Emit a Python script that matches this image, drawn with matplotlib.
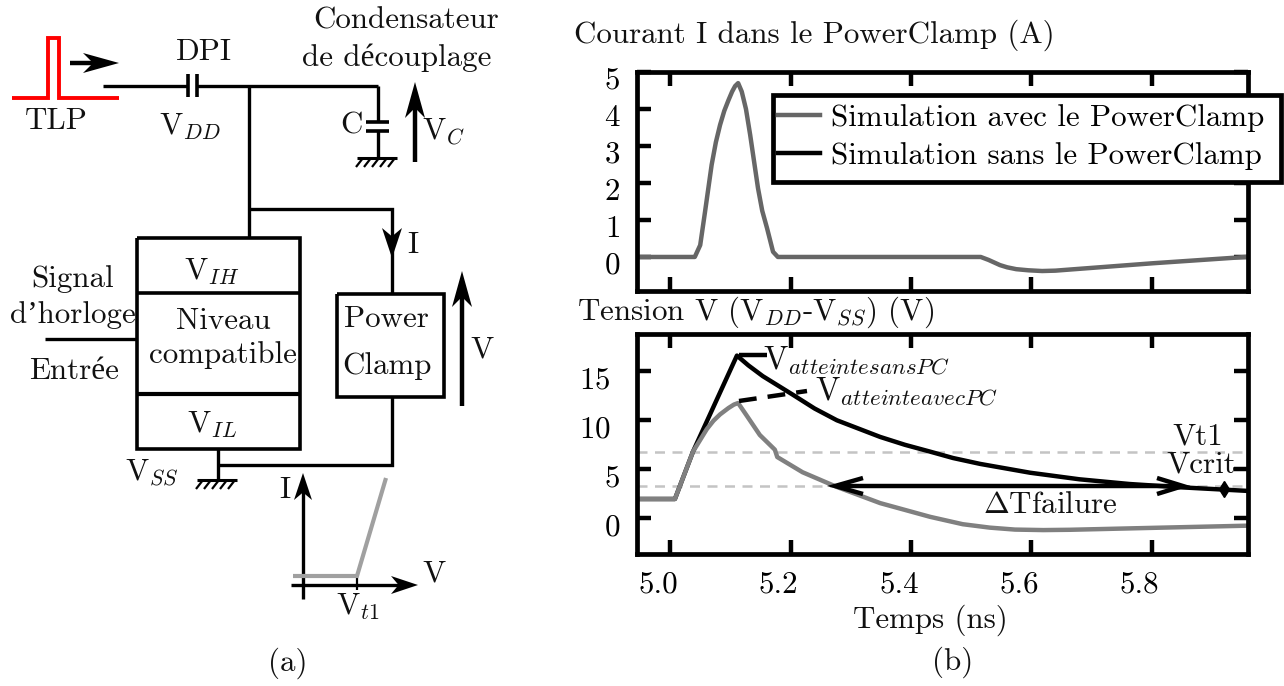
import matplotlib
matplotlib.use("Agg")
import matplotlib.pyplot as plt
from matplotlib.lines import Line2D
from matplotlib.patches import Polygon, Rectangle
from matplotlib.transforms import ScaledTranslation

plt.rcParams['font.family'] = ['cmr10', 'Liberation Serif']
plt.rcParams['mathtext.fontset'] = 'cm'
plt.rcParams['axes.unicode_minus'] = False
plt.rcParams['axes.formatter.use_mathtext'] = True

W, H = 1284, 686
FS = 22.3

# current through the clamp (A)
t_current = [4.948, 5.041, 5.05, 5.058, 5.069, 5.076, 5.083, 5.09, 5.097, 5.103, 5.108, 5.113, 5.119, 5.126,
             5.133, 5.146, 5.153, 5.161, 5.171, 5.179, 5.31, 5.516, 5.529, 5.548, 5.56, 5.575, 5.595, 5.618,
             5.64, 5.664, 5.802, 5.956]
i_clamp = [0, 0, 0.32, 1.22, 2.49, 3.1, 3.57, 3.95, 4.24, 4.47, 4.62, 4.7, 4.47, 4.0,
           3.3, 1.86, 1.25, 0.78, 0.14, 0, 0, 0, -0.08, -0.22, -0.28, -0.33, -0.36, -0.38,
           -0.37, -0.34, -0.17, 0]

# voltage without the clamp (V)
t_sans = [4.948, 5.008, 5.038, 5.111, 5.13, 5.154, 5.204, 5.24, 5.277, 5.349, 5.39, 5.432, 5.47, 5.515,
          5.598, 5.68, 5.763, 5.846, 5.958]
v_sans = [1.97, 1.97, 6.8, 16.6, 15.6, 14.5, 12.6, 11.2, 10.0, 8.3, 7.5, 6.8, 6.15, 5.55,
          4.65, 3.98, 3.5, 3.17, 2.8]

# voltage with the clamp (V)
t_avec = [4.948, 5.008, 5.038, 5.05, 5.061, 5.072, 5.083, 5.097, 5.106, 5.113, 5.127, 5.149, 5.174, 5.178,
          5.22, 5.277, 5.349, 5.432, 5.486, 5.531, 5.573, 5.62, 5.664, 5.818, 5.96]
v_avec = [1.97, 1.97, 6.8, 8.0, 9.1, 9.95, 10.6, 11.25, 11.6, 11.76, 10.5, 8.5, 7.0, 6.25,
          4.7, 3.2, 1.55, 0.15, -0.6, -0.95, -1.15, -1.2, -1.17, -0.95, -0.75]

v_t1 = 6.8
v_crit = 3.3
t_ticks = [5.0, 5.2, 5.4, 5.6, 5.8]
i_ticks = [0, 1, 2, 3, 4, 5]
v_ticks = [0, 5, 10, 15]
legend_labels = ["Simulation avec le PowerClamp", "Simulation sans le PowerClamp"]


def axes_px(fig, x0, y0, x1, y1):
    return fig.add_axes([x0 / W, 1 - y1 / H, (x1 - x0) / W, (y1 - y0) / H])


def style_axes(ax, fig, dy):
    for s in ax.spines.values():
        s.set_linewidth(3.4)
    ax.tick_params(direction='in', length=10, width=3.2, top=True, right=True, labelsize=FS, pad=12)
    off = ScaledTranslation(0, -dy / 100, fig.dpi_scale_trans)
    for lab in ax.get_yticklabels():
        lab.set_transform(lab.get_transform() + off)


fig = plt.figure(figsize=(W / 100, H / 100), dpi=100)

ax1 = axes_px(fig, 637, 72, 1248, 291)
ax1.plot(t_current, i_clamp, color='#666666', lw=3.2)
ax1.set_xlim(4.945, 5.96)
ax1.set_ylim(-0.92, 5)
ax1.set_xticks(t_ticks)
ax1.set_yticks(i_ticks)
ax1.set_xticklabels([])
style_axes(ax1, fig, 6)

# the legend box is wider on the right than the legend's own padding, so it is drawn apart
box = Rectangle((773 / W, 1 - 182 / H), 508 / W, 87 / H, transform=fig.transFigure, fc='white', ec='black',
                lw=3.4, clip_on=False, zorder=4.5)
ax1.add_patch(box)
handles = [Line2D([], [], color='#666666', lw=3.2), Line2D([], [], color='black', lw=3.2)]
leg = ax1.legend(handles, legend_labels, loc='upper left', bbox_to_anchor=(771 / W, 1 - 97 / H),
                 bbox_transform=fig.transFigure, fontsize=FS, frameon=False,
                 handlelength=1.35, handletextpad=0.36, labelspacing=0.34,
                 borderpad=0.22, borderaxespad=0)

ax2 = axes_px(fig, 637, 334, 1248, 554)
ax2.axhline(v_t1, color='#c4c4c4', lw=1.8, ls=(0, (4, 3)))
ax2.axhline(v_crit, color='#c4c4c4', lw=1.8, ls=(0, (4, 3)))
ax2.plot(t_sans, v_sans, color='black', lw=3.2)
ax2.plot(t_avec, v_avec, color='#808080', lw=3.2)
ax2.set_xlim(4.945, 5.96)
ax2.set_ylim(-3.64, 18.8)
ax2.set_xticks(t_ticks)
ax2.set_yticks(v_ticks)
ax2.set_xticklabels([f"{t:.1f}" for t in t_ticks])
style_axes(ax2, fig, 6)
ax2.tick_params(axis='x', pad=12)
off = ScaledTranslation(-12 / 100, 0, fig.dpi_scale_trans)
for lab in ax2.get_xticklabels():
    lab.set_transform(lab.get_transform() + off)
off = ScaledTranslation(-10 / 100, 0, fig.dpi_scale_trans)
for lab in ax2.get_yticklabels()[2:]:
    lab.set_transform(lab.get_transform() + off)

# schematic and annotations are drawn in pixel coordinates
ov = fig.add_axes([0, 0, 1, 1], zorder=5)
ov.set_xlim(0, W)
ov.set_ylim(H, 0)
ov.axis('off')
ov.patch.set_alpha(0)


def wire(xs, ys, lw=2.4, color='black', **kw):
    ov.plot(xs, ys, color=color, lw=lw, solid_capstyle='butt', solid_joinstyle='miter', **kw)


def head(x, y, dx, dy, length=24, half=10):
    # swept arrow head with its tip at x, y, pointing along dx, dy
    px, py = -dy, dx
    pts = [(x, y),
           (x - dx * length + px * half, y - dy * length + py * half),
           (x - dx * length * 0.72, y - dy * length * 0.72),
           (x - dx * length - px * half, y - dy * length - py * half)]
    ov.add_patch(Polygon(pts, closed=True, fc='black', ec='none', zorder=6))


def ground(xc, y):
    wire([xc - 20, xc + 20], [y, y], lw=2.2)
    for x in range(xc - 14, xc + 20, 8):
        wire([x, x - 7], [y, y + 9], lw=1.6)


def label(x, y, s, size=FS, ha='center'):
    ov.text(x, y, s, fontsize=size, ha=ha, va='center', color='#111111')


# TLP pulse
wire([12, 48, 48, 59, 59, 119], [98, 98, 38, 38, 98, 98], lw=2.8, color='#ff0000')
wire([70, 105], [63, 63], lw=3.2)
head(119, 63, 1, 0, length=36, half=10)

# supply rail
wire([103, 188], [86, 86])
wire([197, 378], [86, 86])
wire([188, 188], [74, 97], lw=2.6)
wire([197, 197], [74, 97], lw=2.6)
wire([249, 249], [86, 238])
wire([378, 378], [86, 122])
wire([366, 389], [122, 122], lw=2.6)
wire([366, 389], [131, 131], lw=2.6)
wire([378, 378], [131, 158])
ground(377, 158)
wire([415, 415], [162, 95], lw=3.2)
head(415, 82, 0, -1, length=36, half=10)

# branch to the clamp
wire([249, 392, 392], [209, 209, 293])
head(392, 258, 0, 1, length=30, half=10)
wire([392, 392, 218], [397, 465, 465])

# level-shifter box
wire([137, 300, 300, 137, 137], [238, 238, 449, 449, 238], lw=2.6)
wire([137, 300], [293, 293], lw=2.6)
wire([137, 300], [394, 394], lw=3)
wire([45, 137], [339, 339])
wire([218, 218], [449, 480])
ground(217, 480)

# clamp box
wire([337, 444, 444, 337, 337], [294, 294, 397, 397, 294], lw=2.6)
wire([462, 462], [406, 285], lw=3.2)
head(462, 271, 0, -1, length=36, half=10)

# I(V) sketch
wire([303, 303], [599, 490])
head(303, 473, 0, -1, length=27, half=9)
wire([291, 400], [585, 585])
head(418, 585, 1, 0, length=27, half=9)
wire([357, 357], [578, 590], lw=1.6)
wire([293, 357, 386], [576, 576, 478], lw=3, color='#a0a0a0')

label(406, 21, "Condensateur")
label(397, 58, "de découplage")
label(204, 52, "DPI")
label(56, 121, "TLP")
label(190, 127, "V$_{DD}$")
label(351, 126, "C")
label(444, 132, "V$_{C}$")
label(413, 245, "I")
label(212, 272, "V$_{IH}$")
label(73, 279, "Signal")
label(73, 315, "d’horloge")
label(223, 321, "Niveau")
label(223, 355, "compatible")
label(74, 371, "Entrée")
label(386, 319, "Power")
label(387, 366, "Clamp")
label(482, 350, "V")
label(212, 425, "V$_{IL}$")
label(152, 473, "V$_{SS}$")
label(285, 490, "I")
label(434, 574, "V")
label(358, 607, "V$_{t1}$")
label(288, 663, "(a)")
label(953, 662, "(b)")

label(574, 35, "Courant I dans le PowerClamp (A)", ha='left')
label(577, 312, "Tension V (V$_{DD}$-V$_{SS}$) (V)", ha='left')
label(930, 620, "Temps (ns)")

# annotations on the voltage plot
wire([739, 767], [355, 355], lw=3.2)
label(763, 361, "V$_{atteinte sans PC}$", size=23.5, ha='left')
ov.plot([739, 807], [401, 391], color='black', lw=3.2, ls=(0, (4, 2.5)))
label(815, 392, "V$_{atteinte avec PC}$", size=23.5, ha='left')
label(1198, 437, "Vt1")
label(1201, 465, "Vcrit")
wire([840, 1180], [486, 486], lw=3.2)
wire([863, 835, 863], [478, 486, 494], lw=3.2)
wire([1157, 1183, 1157], [478, 486, 494], lw=3.2)
label(1050, 505, r"$\Delta$Tfailure")
ov.plot([1224], [489], marker='d', ms=8, color='black')

fig.savefig("out.png", dpi=100)
